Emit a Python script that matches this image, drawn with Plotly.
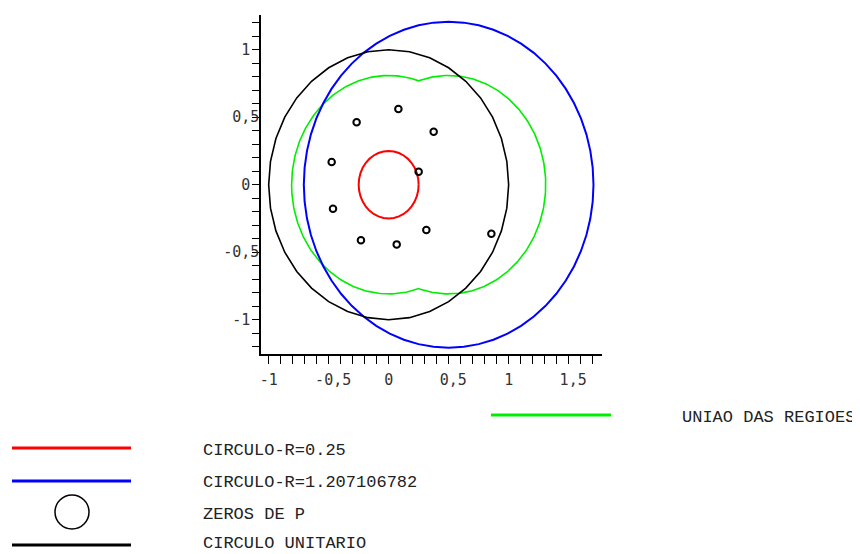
import numpy as np
import plotly.graph_objects as go

# ---------------- data ----------------
zeros_re = [0.081, -0.267, 0.375, -0.475, 0.250, -0.464, 0.314, 0.856, -0.231, 0.067]
zeros_im = [0.561, 0.462, 0.393, 0.168, 0.096, -0.178, -0.336, -0.363, -0.412, -0.442]

small_center = [0.0, 0.0]
small_radius = 0.25
big_center = [0.5, 0.0]
big_radius = 1.207106782
unit_center = [0.0, 0.0]
unit_radius = 1.0
union_centers = [0.0, 0.5]
union_radius = 0.809

x_tickvals = [-1, -0.5, 0, 0.5, 1, 1.5]
x_ticktext = ["-1", "\u00a0-0,5", "0", "\u00a00,5", "1", "\u00a01,5"]
y_tickvals = [-1, -0.5, 0, 0.5, 1]
y_ticktext = ["-1\u00a0", "-0,5", "0\u00a0", "0,5", "1\u00a0"]

legend_labels = ["UNIAO DAS REGIOES", "CIRCULO-R=0.25", "CIRCULO-R=1.207106782",
                 "ZEROS DE P", "CIRCULO UNITARIO"]

# ---------------- curves ----------------
def circle(c, r, n):
    t = np.linspace(0, 2 * np.pi, n + 1)
    return c[0] + r * np.cos(t), c[1] + r * np.sin(t)

ux, uy = circle(unit_center, unit_radius, 36)
sx, sy = circle(small_center, small_radius, 36)
bx, by = circle(big_center, big_radius, 60)

# boundary of the union of two equal discs
mid = (union_centers[0] + union_centers[1]) / 2
ang = np.linspace(np.pi, 0, 181)
gA_x = union_centers[0] + union_radius * np.cos(ang)
gA_y = union_radius * np.sin(ang)
gB_x = union_centers[1] + union_radius * np.cos(ang)
gB_y = union_radius * np.sin(ang)
top_x = np.concatenate([gA_x[gA_x <= mid], gB_x[gB_x >= mid]])
top_y = np.concatenate([gA_y[gA_x <= mid], gB_y[gB_x >= mid]])
gx = np.concatenate([top_x, top_x[::-1]])
gy = np.concatenate([top_y, -top_y[::-1]])

fig = go.Figure()
fig.add_trace(go.Scatter(x=gx, y=gy, mode="lines", line=dict(color="#00ee00", width=1.6),
                         name=legend_labels[0], showlegend=False, hoverinfo="skip"))
fig.add_trace(go.Scatter(x=bx, y=by, mode="lines", line=dict(color="#0000ff", width=2),
                         name=legend_labels[2], showlegend=False, hoverinfo="skip"))
fig.add_trace(go.Scatter(x=ux, y=uy, mode="lines", line=dict(color="black", width=1.6),
                         name=legend_labels[4], showlegend=False, hoverinfo="skip"))
fig.add_trace(go.Scatter(x=sx, y=sy, mode="lines", line=dict(color="#ff0000", width=2),
                         name=legend_labels[1], showlegend=False, hoverinfo="skip"))
fig.add_trace(go.Scatter(x=zeros_re, y=zeros_im, mode="markers",
                         marker=dict(symbol="circle-open", size=6.5, color="black",
                                     line=dict(width=2, color="black")),
                         name=legend_labels[3], showlegend=False))

# ---------------- layout ----------------
# the page body has an 8px margin, so the figure is drawn 8px smaller
OFF = 8
W, H = 860 - OFF, 554 - OFF
L = 261 - OFF
T = 15 - OFF
R = W - (602 - OFF)
B = H - (354 - OFF)
PW, PH = W - L - R, H - T - B

def px(x):
    return (x - OFF - L) / PW

def py(y):
    return (H - B - (y - OFF)) / PH

tickfont = dict(family="DejaVu Sans Mono", size=15, color="#333333")
fig.update_layout(
    width=W, height=H, margin=dict(l=L, r=R, t=T, b=B),
    plot_bgcolor="white", paper_bgcolor="white", showlegend=False,
    xaxis=dict(range=[-1.064, 1.778], showgrid=False, zeroline=False,
               showline=True, linecolor="black", linewidth=1.5,
               ticks="outside", ticklen=8, tickwidth=1, tickcolor="black",
               tickvals=x_tickvals, ticktext=x_ticktext, tickfont=tickfont,
               ticklabelstandoff=3,
               minor=dict(tick0=0, dtick=0.1, ticks="outside", ticklen=8,
                          tickwidth=1, tickcolor="black", showgrid=False)),
    yaxis=dict(range=[-1.254, 1.257], showgrid=False, zeroline=False,
               showline=True, linecolor="black", linewidth=1.5,
               ticks="outside", ticklen=7, tickwidth=1, tickcolor="black",
               tickvals=y_tickvals, ticktext=y_ticktext, tickfont=tickfont,
               ticklabelstandoff=-10,
               minor=dict(tick0=0, dtick=0.1, ticks="outside", ticklen=7,
                          tickwidth=1, tickcolor="black", showgrid=False)),
)

# ---------------- manual legend (reference page pixels) ----------------
leg_items = [
    # (x_line0, x_line1, y_line, x_text, y_text, color, kind)
    (491, 611, 415, 681, 417, "#00ee00", "line"),
    (12, 131, 448, 202, 450, "#ff0000", "line"),
    (12, 131, 481, 202, 482, "#0000ff", "line"),
    (55, 89, 512, 202, 514, "black", "circle"),
    (12, 131, 545, 202, 543, "black", "line"),
]
shapes = []
annots = []
for (x0, x1, yl, xt, yt, col, kind), lab in zip(leg_items, legend_labels):
    if kind == "line":
        shapes.append(dict(type="line", xref="paper", yref="paper",
                           x0=px(x0), x1=px(x1), y0=py(yl), y1=py(yl),
                           line=dict(color=col, width=3)))
    else:
        shapes.append(dict(type="circle", xref="paper", yref="paper",
                           x0=px(x0), x1=px(x1), y0=py(yl - 17), y1=py(yl + 17),
                           line=dict(color=col, width=1.5)))
    annots.append(dict(text=lab, xref="paper", yref="paper", x=px(xt), y=py(yt),
                       xanchor="left", yanchor="middle", showarrow=False, borderpad=0,
                       font=dict(family="Liberation Mono", size=17, color="#222222")))
fig.update_layout(shapes=shapes, annotations=annots)

fig.write_html("out.html")
